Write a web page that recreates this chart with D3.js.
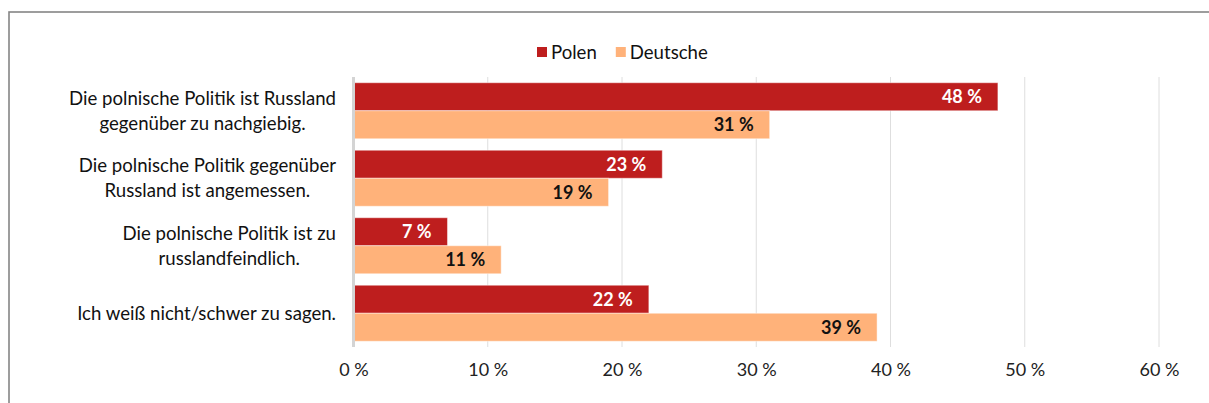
<!DOCTYPE html>
<html>
<head>
<meta charset="utf-8">
<script src="https://cdn.jsdelivr.net/npm/d3@7"></script>
<style>
  body { margin: 0; background: #fff; }
  svg { display: block; font-family: Lato, "Open Sans", sans-serif; }
</style>
</head>
<body>
<div id="chart"></div>
<script>
// categories (each split in lines as in the original)
const categories = [
    ["Die polnische Politik ist Russland", "gegenüber zu nachgiebig."],
    ["Die polnische Politik gegenüber", "Russland ist angemessen."],
    ["Die polnische Politik ist zu", "russlandfeindlich."],
    ["Ich weiß nicht/schwer zu sagen."]
];
const seriesNames = ["Polen", "Deutsche"];
const polen = [48, 23, 7, 22];
const deutsche = [31, 19, 11, 39];
const xTicks = [0, 10, 20, 30, 40, 50, 60];

const colors = { "Polen": "#be1e1e", "Deutsche": "#ffb27a" };
const labelColors = { "Polen": "#ffffff", "Deutsche": "#111111" };

const W = 1209, H = 403;
const margin = { top: 77, right: 50, bottom: 56, left: 353.5 };
const width = 1159 - margin.left;
const height = H - margin.top - margin.bottom;

const svg = d3.select("#chart")
    .append("svg")
    .attr("width", W)
    .attr("height", H);

// outer frame (runs past the right and bottom edge)
svg.append("rect")
    .attr("x", 9)
    .attr("y", 12)
    .attr("width", W + 20)
    .attr("height", H + 20)
    .attr("fill", "none")
    .attr("stroke", "#858585")
    .attr("stroke-width", 1.6);

const g = svg.append("g")
    .attr("transform", "translate(" + margin.left + "," + margin.top + ")");

const x = d3.scaleLinear().domain([0, 60]).range([0, width]);
const y = d3.scaleBand().domain(d3.range(categories.length)).range([0, height]).paddingInner(0.17).paddingOuter(0.085);
const ySub = d3.scaleBand().domain(seriesNames).range([0, y.bandwidth()]);

// gridlines
g.append("g")
    .selectAll("line")
    .data(xTicks.slice(1))
    .enter()
    .append("line")
    .attr("x1", d => x(d)).attr("x2", d => x(d))
    .attr("y1", 0).attr("y2", height)
    .attr("stroke", "#dedede")
    .attr("stroke-width", 1);

// x axis labels
const xAxis = g.append("g")
    .attr("transform", "translate(0," + height + ")")
    .call(d3.axisBottom(x).tickValues(xTicks).tickSize(0).tickPadding(16).tickFormat(d => d + " %"));
xAxis.select(".domain").remove();
xAxis.selectAll("text")
    .attr("font-family", "Lato, sans-serif")
    .attr("font-size", 18)
    .attr("fill", "#222");

// bars
const rows = categories.map((c, i) => ({ i: i, values: [
    { name: "Polen", value: polen[i] },
    { name: "Deutsche", value: deutsche[i] }
] }));

const groups = g.selectAll(".grp")
    .data(rows)
    .enter()
    .append("g")
    .attr("class", "grp")
    .attr("transform", d => "translate(0," + y(d.i) + ")");

groups.selectAll("rect")
    .data(d => d.values)
    .enter()
    .append("rect")
    .attr("x", 0)
    .attr("y", d => ySub(d.name))
    .attr("width", d => x(d.value))
    .attr("height", ySub.bandwidth())
    .attr("fill", d => colors[d.name])
    .attr("stroke", "rgba(255,255,255,0.45)")
    .attr("stroke-width", 1);

groups.selectAll("text")
    .data(d => d.values)
    .enter()
    .append("text")
    .attr("x", d => x(d.value) - 16)
    .attr("y", d => ySub(d.name) + ySub.bandwidth() / 2)
    .attr("dy", "0.36em")
    .attr("text-anchor", "end")
    .attr("font-size", 18)
    .attr("font-weight", "bold")
    .attr("fill", d => labelColors[d.name])
    .text(d => d.value + " %");

// axis line at 0
g.append("line")
    .attr("x1", 0).attr("x2", 0)
    .attr("y1", 0).attr("y2", height)
    .attr("stroke", "#d4d4d4")
    .attr("stroke-width", 3);

// category labels: lines centred on each other, block right-aligned
const lineH = 25;
categories.forEach((lines, i) => {
    const cy = y(i) + y.bandwidth() / 2;
    const lab = g.append("g");
    const texts = lines.map((t, k) => lab.append("text")
        .attr("y", cy + (k - (lines.length - 1) / 2) * lineH)
        .attr("dy", "0.35em")
        .attr("text-anchor", "middle")
        .attr("font-size", 18.6)
        .attr("fill", "#111")
        .text(t));
    const maxW = d3.max(texts, t => t.node().getComputedTextLength());
    texts.forEach(t => t.attr("x", -17.5 - maxW / 2));
});

// legend
const legend = svg.append("g").attr("transform", "translate(537,52)");
let lx = 0;
seriesNames.forEach(name => {
    legend.append("rect")
        .attr("x", lx).attr("y", -5)
        .attr("width", 10).attr("height", 10)
        .attr("fill", colors[name]);
    const t = legend.append("text")
        .attr("x", lx + 14)
        .attr("dy", "0.35em")
        .attr("font-size", 18.6)
        .attr("fill", "#111")
        .text(name);
    lx += 14 + t.node().getComputedTextLength() + 19;
});
</script>
</body>
</html>
